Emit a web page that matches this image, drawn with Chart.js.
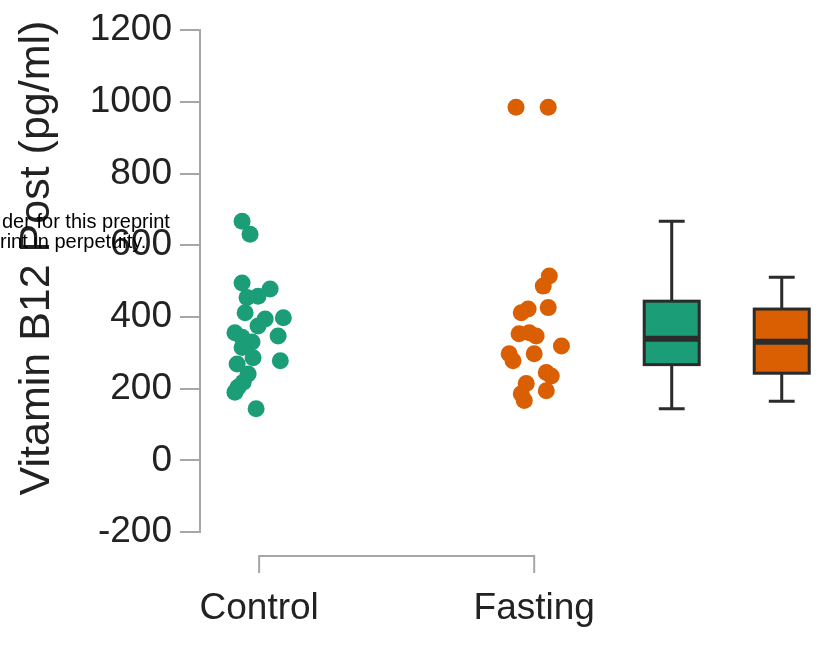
<!DOCTYPE html>
<html>
<head>
<meta charset="utf-8">
<title>Vitamin B12 Post</title>
<script src="https://cdn.jsdelivr.net/npm/chart.js@4.4.1/dist/chart.umd.min.js"></script>
<style>
  html, body { margin: 0; padding: 0; background: #fff; }
  #wrap { width: 826px; height: 651px; }
</style>
</head>
<body>
<div id="wrap"><canvas id="b12Chart" width="826" height="651"></canvas></div>
<script>
// ---- data ----
const groupLabels = ['Control', 'Fasting'];
const groupPos = [1, 2];

// Control: vitamin B12 values (pg/ml) and horizontal jitter
const controlValues = [667, 631, 495, 478, 458, 454, 412, 398, 394, 375, 356, 347, 343, 330, 315, 286, 278, 269, 241, 218, 204, 190, 144];
const controlJitter = [-0.062, -0.033, -0.062, 0.040, -0.004, -0.044, -0.051, 0.088, 0.022, -0.004, -0.088, 0.069, -0.062, -0.026, -0.062, -0.022, 0.077, -0.080, -0.040, -0.058, -0.077, -0.088, -0.011];

// Fasting
const fastingValues = [985, 985, 514, 486, 426, 422, 412, 356, 353, 347, 319, 297, 297, 278, 245, 235, 214, 194, 186, 167];
const fastingJitter = [-0.066, 0.051, 0.055, 0.033, 0.051, -0.022, -0.047, -0.018, -0.055, 0.007, 0.099, -0.091, 0.000, -0.077, 0.044, 0.062, -0.029, 0.044, -0.047, -0.036];

// box plots (right side)
const boxPos = [2.50, 2.90];
const boxMin = [144, 165];
const boxQ1 = [267, 243];
const boxMedian = [339, 331];
const boxQ3 = [444, 422];
const boxMax = [667, 511];

const yTicks = [-200, 0, 200, 400, 600, 800, 1000, 1200];

const GREEN = '#1b9e77';
const ORANGE = '#d95f02';
const boxColors = [GREEN, ORANGE];
const FONT = '"Liberation Sans", Arial, Helvetica, sans-serif';

function toPoints(values, jitter, pos) {
    return values.map((v, i) => ({ x: pos + jitter[i], y: v }));
}

// x axis bracket (Control..Fasting), box plots, y title, overlay text
const extrasPlugin = {
    id: 'extras',
    afterDatasetsDraw(chart) {
        const ctx = chart.ctx;
        const xs = chart.scales.x;
        const ys = chart.scales.y;
        const area = chart.chartArea;

        // bracket below the plot
        const by = area.bottom + 24;
        const x1 = xs.getPixelForValue(groupPos[0]);
        const x2 = xs.getPixelForValue(groupPos[1]);
        ctx.save();
        ctx.strokeStyle = '#a6a6a6';
        ctx.lineWidth = 2;
        ctx.beginPath();
        ctx.moveTo(x1, by + 17); ctx.lineTo(x1, by); ctx.lineTo(x2, by); ctx.lineTo(x2, by + 17);
        ctx.stroke();
        ctx.restore();

        // box plots
        const halfBox = 0.1, halfCap = 0.047;
        ctx.save();
        ctx.strokeStyle = '#2b2b2b';
        boxPos.forEach((p, i) => {
            const xl = xs.getPixelForValue(p - halfBox);
            const xr = xs.getPixelForValue(p + halfBox);
            const xc = xs.getPixelForValue(p);
            const cl = xs.getPixelForValue(p - halfCap);
            const cr = xs.getPixelForValue(p + halfCap);
            const yMin = ys.getPixelForValue(boxMin[i]);
            const yQ1 = ys.getPixelForValue(boxQ1[i]);
            const yMed = ys.getPixelForValue(boxMedian[i]);
            const yQ3 = ys.getPixelForValue(boxQ3[i]);
            const yMax = ys.getPixelForValue(boxMax[i]);

            ctx.lineWidth = 3;
            ctx.beginPath();
            ctx.moveTo(xc, yQ3); ctx.lineTo(xc, yMax);
            ctx.moveTo(cl, yMax); ctx.lineTo(cr, yMax);
            ctx.moveTo(xc, yQ1); ctx.lineTo(xc, yMin);
            ctx.moveTo(cl, yMin); ctx.lineTo(cr, yMin);
            ctx.stroke();

            ctx.fillStyle = boxColors[i];
            ctx.fillRect(xl, yQ3, xr - xl, yQ1 - yQ3);
            ctx.strokeRect(xl, yQ3, xr - xl, yQ1 - yQ3);

            ctx.lineWidth = 6;
            ctx.beginPath();
            ctx.moveTo(xl, yMed); ctx.lineTo(xr, yMed);
            ctx.stroke();
        });
        ctx.restore();
    },
    afterDraw(chart) {
        const ctx = chart.ctx;
        // y axis title
        ctx.save();
        ctx.translate(37, 258);
        ctx.rotate(-Math.PI / 2);
        ctx.font = '43px ' + FONT;
        ctx.fillStyle = '#222';
        ctx.textAlign = 'center';
        ctx.textBaseline = 'middle';
        ctx.fillText('Vitamin B12 Post (pg/ml)', 0, 0);
        ctx.restore();

        // preprint notice overlapping the left side
        ctx.save();
        ctx.font = '20px ' + FONT;
        ctx.fillStyle = '#000';
        ctx.textAlign = 'left';
        ctx.textBaseline = 'alphabetic';
        ctx.fillText('der for this preprint', 2, 228);
        ctx.fillText('rint in perpetuity.', 0, 248);
        ctx.restore();
    }
};

new Chart(document.getElementById('b12Chart'), {
    type: 'scatter',
    data: {
        datasets: [
            {
                label: groupLabels[0],
                data: toPoints(controlValues, controlJitter, groupPos[0]),
                backgroundColor: GREEN,
                borderWidth: 0,
                pointRadius: 8.5,
                pointHoverRadius: 8.5
            },
            {
                label: groupLabels[1],
                data: toPoints(fastingValues, fastingJitter, groupPos[1]),
                backgroundColor: ORANGE,
                borderWidth: 0,
                pointRadius: 8.5,
                pointHoverRadius: 8.5
            }
        ]
    },
    options: {
        responsive: false,
        animation: false,
        layout: { padding: { top: 28, right: 8, bottom: 0, left: 0 } },
        plugins: {
            legend: { display: false },
            tooltip: { enabled: false }
        },
        scales: {
            x: {
                type: 'linear',
                min: 0.785,
                max: 3.03,
                afterBuildTicks: (scale) => { scale.ticks = groupPos.map(v => ({ value: v })); },
                afterFit: (scale) => { scale.height = 119; },
                grid: { display: false },
                border: { display: false },
                ticks: {
                    autoSkip: false,
                    maxRotation: 0,
                    padding: 47,
                    color: '#222',
                    font: { family: FONT, size: 37 },
                    callback: (v) => groupLabels[groupPos.indexOf(v)] || ''
                }
            },
            y: {
                min: -200,
                max: 1200,
                afterBuildTicks: (scale) => { scale.ticks = yTicks.map(v => ({ value: v })); },
                afterFit: (scale) => { scale.width = 200; },
                grid: {
                    drawOnChartArea: false,
                    drawTicks: true,
                    tickLength: 20,
                    color: '#a6a6a6',
                    lineWidth: 2
                },
                border: { display: true, color: '#a6a6a6', width: 2 },
                ticks: {
                    padding: 8,
                    color: '#222',
                    font: { family: FONT, size: 37 },
                    callback: (v) => String(v)
                }
            }
        }
    },
    plugins: [extrasPlugin]
});
</script>
</body>
</html>
